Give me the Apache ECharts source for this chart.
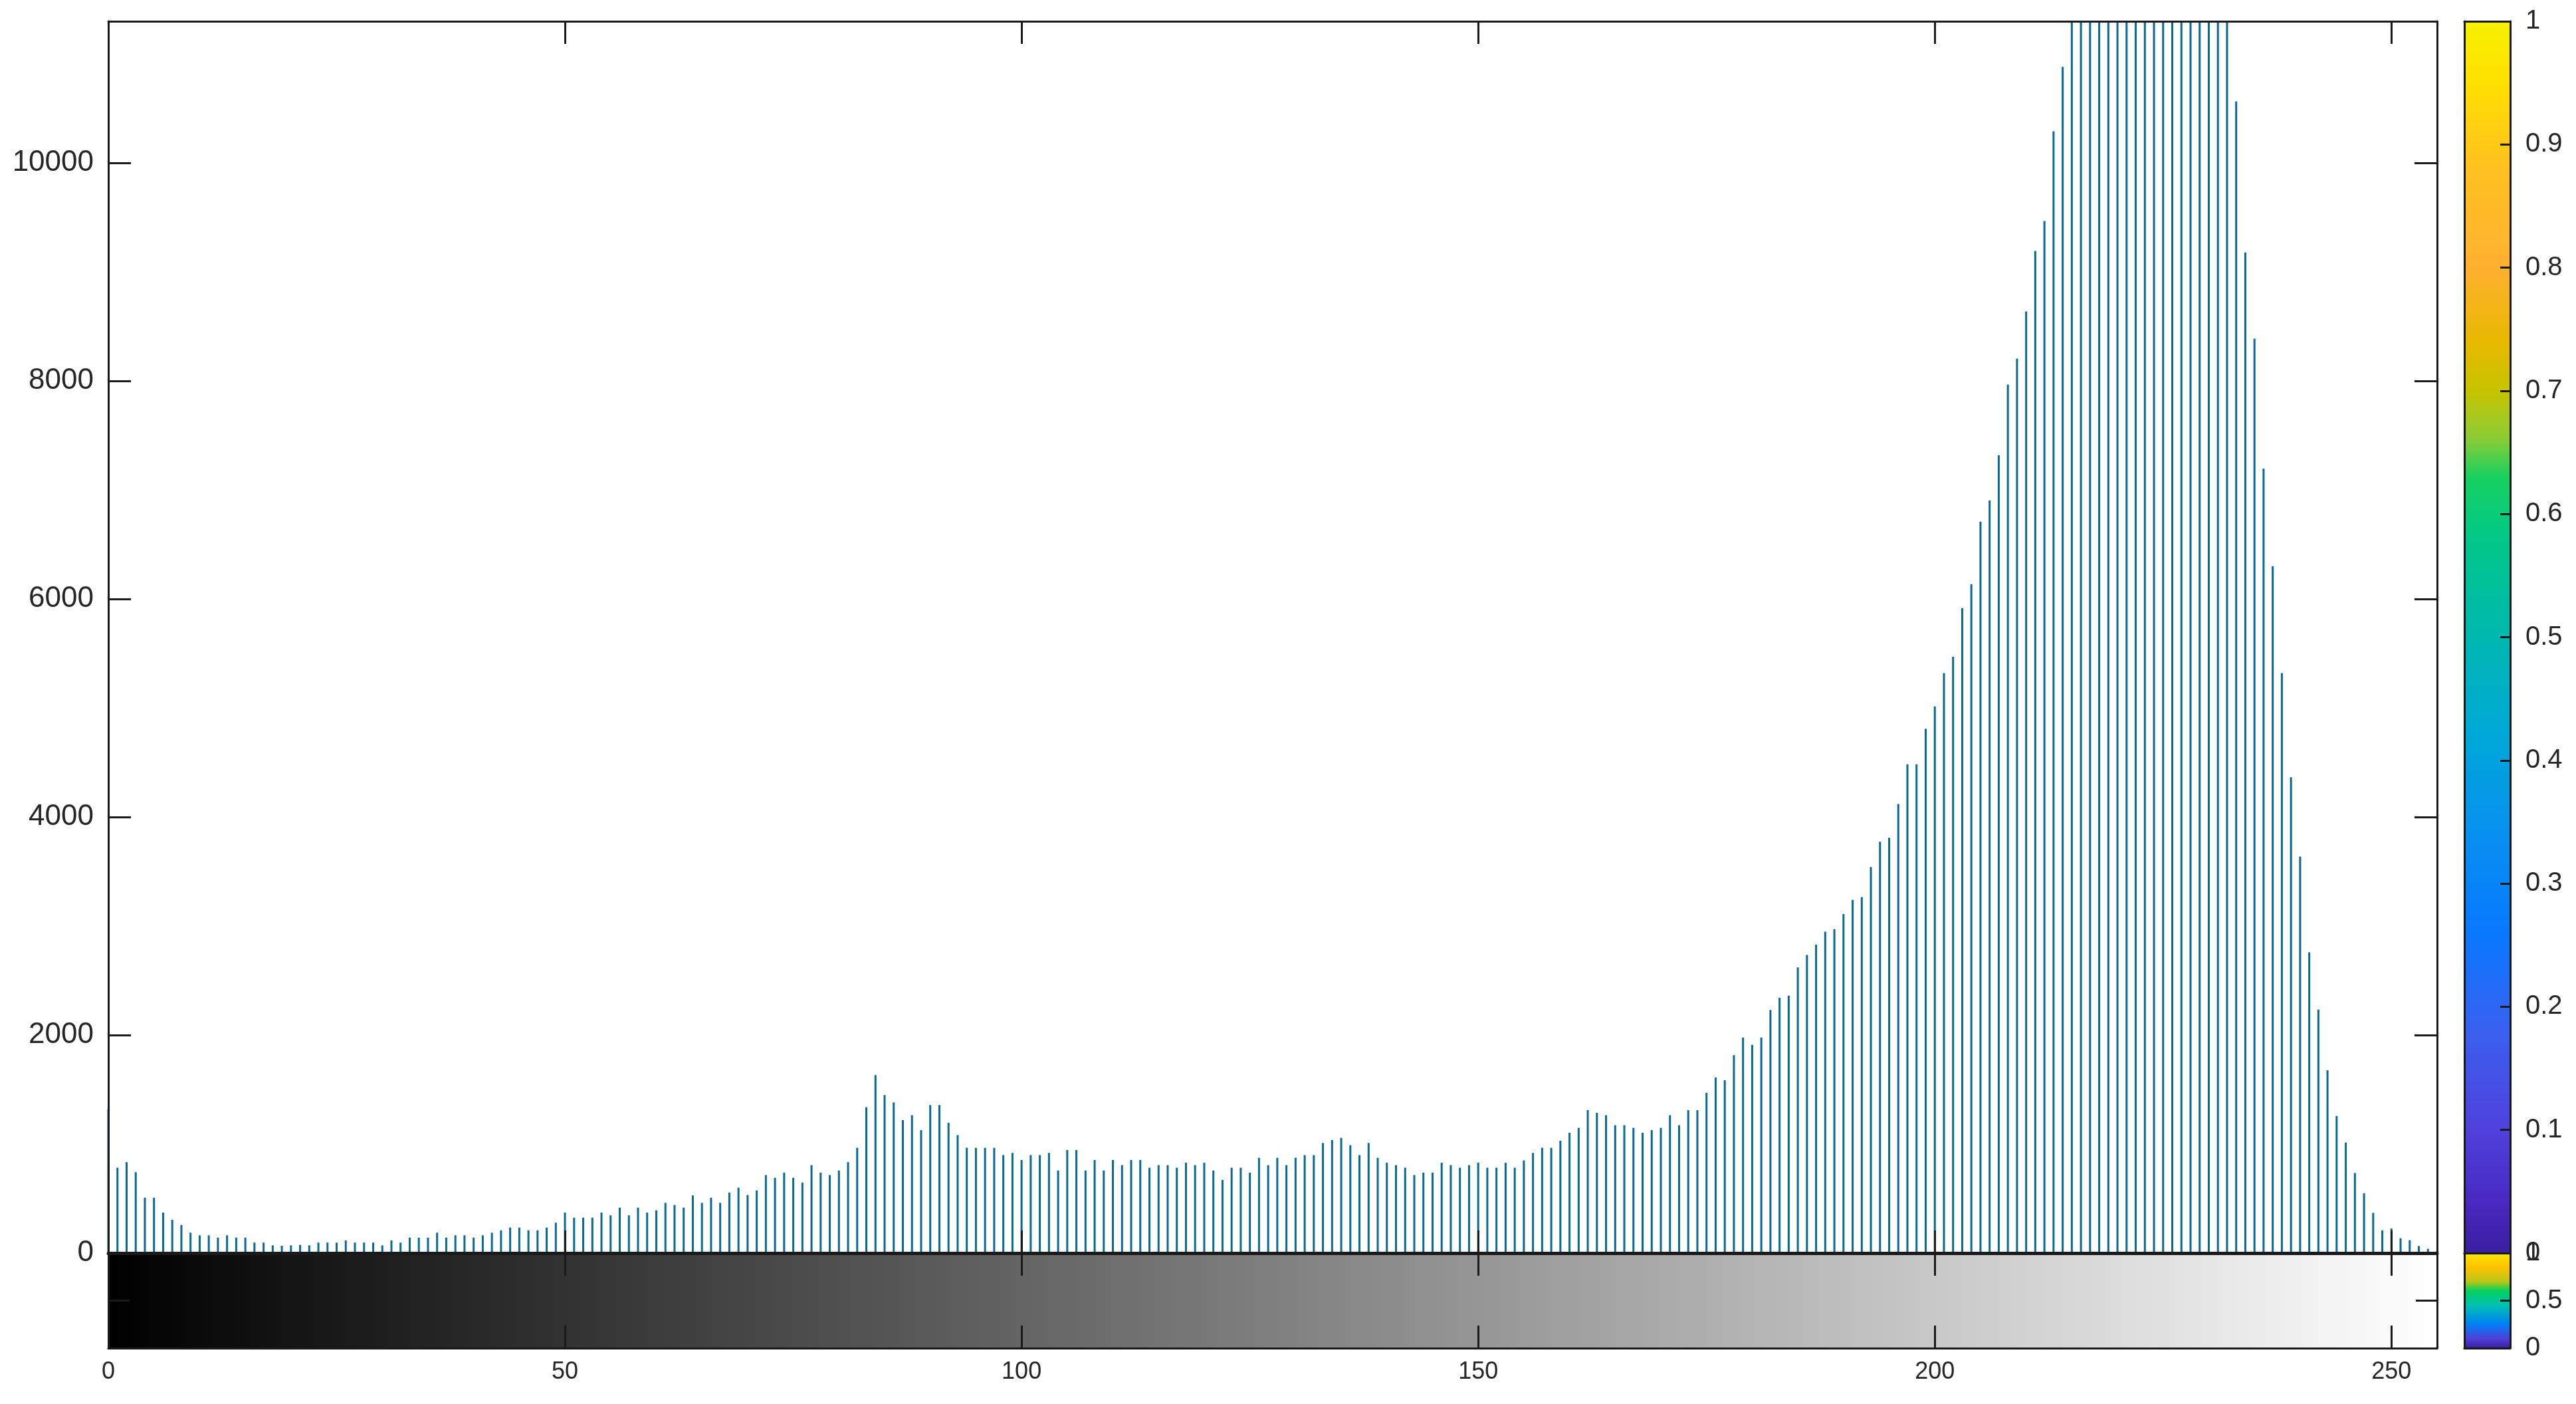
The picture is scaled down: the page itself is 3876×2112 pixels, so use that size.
<!DOCTYPE html>
<html>
<head>
<meta charset="utf-8">
<title>imhist</title>
<script src="https://cdn.jsdelivr.net/npm/echarts@6/dist/echarts.min.js"></script>
<style>
    html, body { margin: 0; padding: 0; background: #fff; }
    #chart { width: 3876px; height: 2112px; }
</style>
</head>
<body>
<div id="chart"></div>
<script>
    // gray levels 0..255 (bin positions)
    var levels = [];
    for (var i = 0; i < 256; i++) levels.push(i);

    // pixel count per gray level (bins 215-232 are cut by the axis)
    var counts = [
        1320, 783, 834, 742, 508, 508, 372, 305, 258, 187, 163, 163, 142, 163, 142, 142,
        96, 96, 71, 67, 71, 75, 71, 96, 96, 96, 116, 96, 96, 96, 71, 116,
        96, 142, 142, 142, 187, 142, 163, 163, 142, 163, 187, 209, 234, 234, 209, 209,
        234, 279, 372, 325, 325, 325, 372, 346, 417, 346, 417, 372, 392, 461, 441, 417,
        529, 461, 508, 461, 555, 600, 533, 575, 716, 691, 738, 691, 646, 807, 738, 716,
        758, 834, 966, 1338, 1633, 1450, 1382, 1220, 1265, 1128, 1358, 1358, 1195, 1082, 966, 966,
        966, 966, 899, 919, 854, 899, 899, 919, 758, 945, 945, 758, 854, 758, 854, 807,
        854, 854, 783, 807, 807, 783, 829, 807, 829, 758, 671, 783, 783, 738, 874, 807,
        874, 807, 874, 899, 899, 1010, 1037, 1057, 990, 899, 1010, 874, 829, 807, 783, 716,
        738, 738, 829, 807, 783, 807, 829, 783, 783, 829, 783, 850, 919, 966, 966, 1031,
        1104, 1149, 1311, 1287, 1265, 1173, 1173, 1149, 1104, 1128, 1149, 1265, 1173, 1311, 1311, 1470,
        1612, 1586, 1815, 1978, 1911, 1978, 2230, 2342, 2362, 2620, 2735, 2830, 2948, 2972, 3110, 3240,
        3265, 3542, 3774, 3810, 4120, 4484, 4484, 4810, 5015, 5320, 5470, 5917, 6137, 6710, 6905, 7320,
        7967, 8205, 8638, 9193, 9467, 10291, 10882, 11600, 12100, 12600, 13000, 13300, 13600, 13800, 13900, 14000,
        13950, 13800, 13600, 13300, 13000, 12600, 12200, 11800, 11450, 10565, 9180, 8388, 7196, 6301, 5320, 4365,
        3638, 2760, 2233, 1677, 1258, 1014, 735, 548, 369, 208, 226, 136, 118, 65, 39, 20
    ];

    // axis ranges and tick steps
    var xRange = [0, 255];
    var xStep = 50;
    var yRange = [0, 11300];
    var yStep = 2000;
    var cbarRange = [0, 1];
    var cbarStep = 0.1;
    var smallBarStep = 0.5;

    var INK = '#1a1a1a';
    var TEXT = '#262626';

    function axisBase(extra) {
        var a = {
            type: 'value',
            z: 5,
            splitLine: { show: false },
            axisLine: { show: true, onZero: false, lineStyle: { color: INK, width: 3 } },
            axisTick: { show: false },
            axisLabel: { show: false }
        };
        for (var k in extra) a[k] = extra[k];
        return a;
    }
    var tickIn = function (len) {
        return { show: true, inside: true, length: len, lineStyle: { color: INK, width: 3 } };
    };
    var plain = function (v) { return String(v); };

    var grids = [
        { left: 163, top: 32, width: 3504, height: 1853 },   // histogram
        { left: 163, top: 1885, width: 3504, height: 143 },  // gray level strip
        { left: 3708, top: 32, width: 69, height: 1853 },    // colorbar
        { left: 3708, top: 1885, width: 69, height: 143 }    // small colorbar
    ];

    var xAxes = [
        axisBase({ gridIndex: 0, position: 'bottom', min: xRange[0], max: xRange[1], interval: xStep, axisTick: tickIn(34) }),
        axisBase({ gridIndex: 0, position: 'top', min: xRange[0], max: xRange[1], interval: xStep, axisTick: tickIn(34) }),
        axisBase({
            gridIndex: 1, position: 'bottom', min: xRange[0], max: xRange[1], interval: xStep, axisTick: tickIn(34),
            axisLabel: {
                show: true, margin: 18, color: TEXT, fontSize: 36,
                fontFamily: '"Liberation Sans Narrow", "Liberation Sans", Arial, sans-serif',
                showMaxLabel: false, formatter: plain
            }
        }),
        axisBase({ gridIndex: 1, position: 'top', min: xRange[0], max: xRange[1], interval: xStep, axisTick: tickIn(34),
            axisLine: { show: true, onZero: false, lineStyle: { color: INK, width: 5 } } }),
        axisBase({ gridIndex: 2, position: 'bottom', min: 0, max: 1 }),
        axisBase({ gridIndex: 2, position: 'top', min: 0, max: 1 }),
        axisBase({ gridIndex: 3, position: 'bottom', min: 0, max: 1 }),
        axisBase({ gridIndex: 3, position: 'top', min: 0, max: 1 })
    ];

    var yAxes = [
        axisBase({
            gridIndex: 0, position: 'left', min: yRange[0], max: yRange[1], interval: yStep, axisTick: tickIn(34),
            axisLabel: {
                show: true, margin: 22, color: TEXT, fontSize: 44,
                fontFamily: '"Liberation Sans", Arial, sans-serif', showMaxLabel: false, formatter: plain
            }
        }),
        axisBase({ gridIndex: 0, position: 'right', min: yRange[0], max: yRange[1], interval: yStep, axisTick: tickIn(34) }),
        axisBase({ gridIndex: 1, position: 'left', min: 0, max: 1, interval: smallBarStep, axisTick: tickIn(32) }),
        axisBase({ gridIndex: 1, position: 'right', min: 0, max: 1, interval: smallBarStep, axisTick: tickIn(32) }),
        axisBase({ gridIndex: 2, position: 'left', min: cbarRange[0], max: cbarRange[1] }),
        axisBase({
            gridIndex: 2, position: 'right', min: cbarRange[0], max: cbarRange[1], interval: cbarStep, axisTick: tickIn(15),
            axisLabel: { show: true, margin: 23, color: TEXT, fontSize: 40, fontFamily: '"Liberation Sans", Arial, sans-serif' }
        }),
        axisBase({ gridIndex: 3, position: 'left', min: cbarRange[0], max: cbarRange[1] }),
        axisBase({
            gridIndex: 3, position: 'right', min: cbarRange[0], max: cbarRange[1], interval: smallBarStep, axisTick: tickIn(15),
            axisLabel: { show: true, margin: 23, color: TEXT, fontSize: 40, fontFamily: '"Liberation Sans", Arial, sans-serif' }
        })
    ];

    function band(xi, xMax, colorStops, horizontal) {
        return {
            type: 'line',
            xAxisIndex: xi,
            yAxisIndex: xi,
            data: [[0, 1], [xMax, 1]],
            showSymbol: false,
            silent: true,
            lineStyle: { width: 0 },
            areaStyle: {
                opacity: 1,
                color: {
                    type: 'linear',
                    x: 0, y: 0, x2: horizontal ? 1 : 0, y2: horizontal ? 0 : 1,
                    colorStops: colorStops
                }
            }
        };
    }

    var option = {
        backgroundColor: '#fff',
        animation: false,
        grid: grids,
        xAxis: xAxes,
        yAxis: yAxes,
        series: [
            {
                type: 'bar',
                xAxisIndex: 0,
                yAxisIndex: 0,
                barWidth: 3,
                itemStyle: { color: '#066a94' },
                data: levels.map(function (l, i) { return [l, counts[i]]; })
            },
            band(2, xRange[1], [
                { offset: 0, color: '#000000' },
                { offset: 1, color: '#ffffff' }
            ], true),
            band(4, 1, [
                { offset: 0, color: '#f6f100' },
                { offset: 0.05, color: '#ffe000' },
                { offset: 0.12, color: '#ffc020' },
                { offset: 0.2, color: '#ffb030' },
                { offset: 0.26, color: '#e8b800' },
                { offset: 0.3, color: '#c8c400' },
                { offset: 0.34, color: '#88cc38' },
                { offset: 0.37, color: '#18d060' },
                { offset: 0.42, color: '#00c888' },
                { offset: 0.5, color: '#00b8b0' },
                { offset: 0.58, color: '#00a8d8' },
                { offset: 0.66, color: '#0890f0' },
                { offset: 0.74, color: '#0878ff' },
                { offset: 0.82, color: '#3a60f0' },
                { offset: 0.9, color: '#5040dc' },
                { offset: 0.96, color: '#4828c0' },
                { offset: 1, color: '#3a1fa0' }
            ], false),
            band(6, 1, [
                { offset: 0, color: '#f8e800' },
                { offset: 0.15, color: '#ffc000' },
                { offset: 0.3, color: '#b8c818' },
                { offset: 0.4, color: '#00d060' },
                { offset: 0.55, color: '#00c0b0' },
                { offset: 0.75, color: '#0080f8' },
                { offset: 0.9, color: '#5040d8' },
                { offset: 1, color: '#3a1fa0' }
            ], false)
        ]
    };

    var myChart = echarts.init(document.getElementById('chart'));
    myChart.setOption(option);
</script>
</body>
</html>
